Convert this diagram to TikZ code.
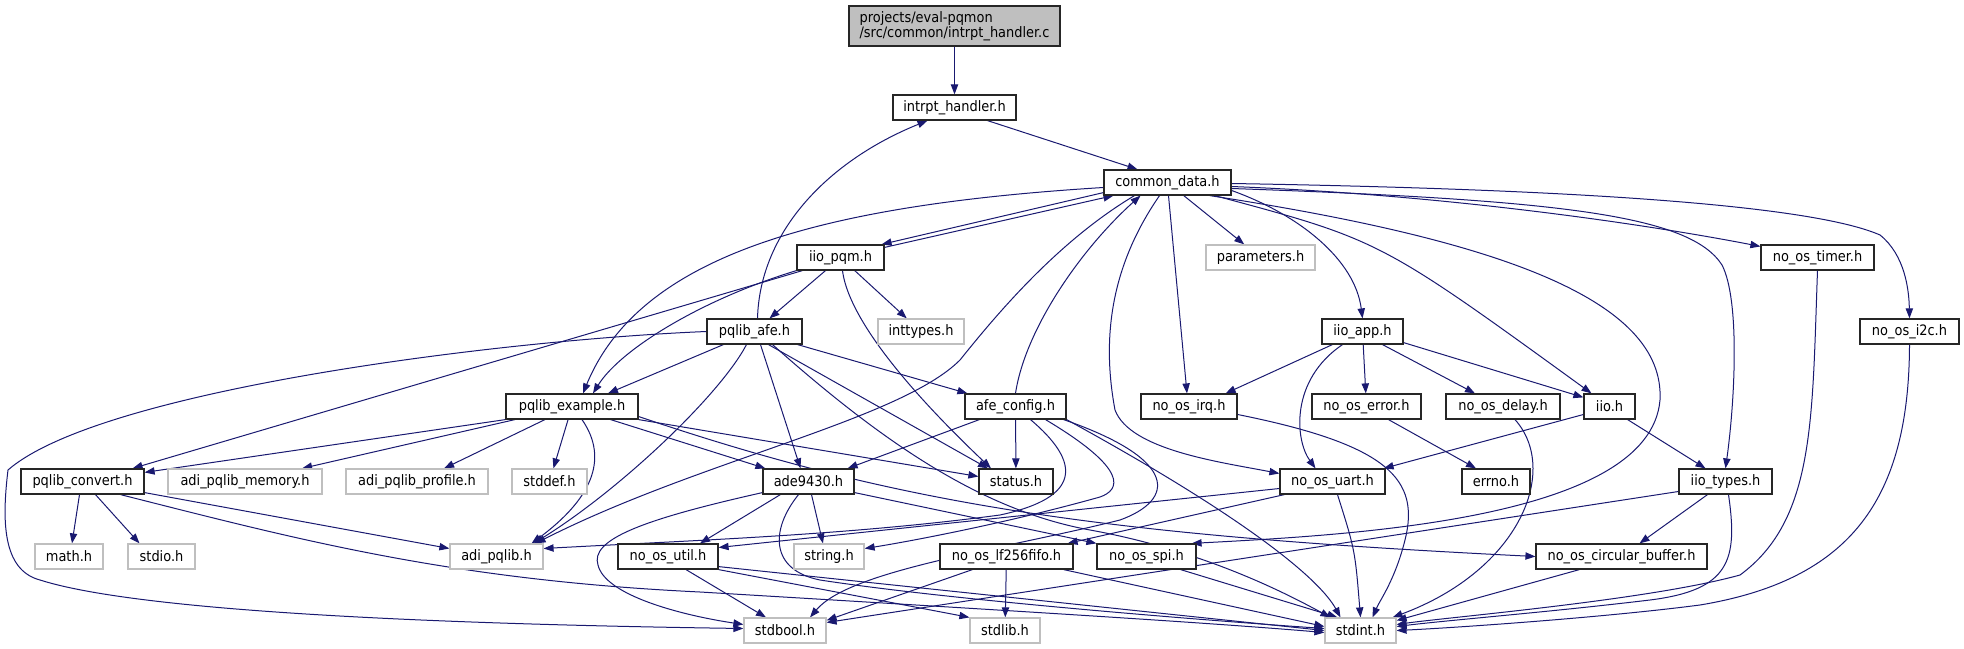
\documentclass[tikz,border=0pt]{standalone}
\usepackage{fontspec}
\setmainfont{DejaVu Sans Condensed}
\usetikzlibrary{arrows.meta,calc}
\definecolor{edgec}{HTML}{191970}
\definecolor{grayb}{HTML}{BFBFBF}
\pgfdeclarelayer{bg}
\pgfsetlayers{bg,main}
\begin{document}
\begin{tikzpicture}[x=0.75pt,y=-0.75pt,
  box/.style={draw=black!85, line width=0.9pt, fill=white, inner sep=0pt, minimum height=18.75pt, font=\fontsize{10.8}{11.5}\selectfont},
  sys/.style={box, draw=grayb},
  wd/.style={minimum width={#1*0.75pt}},
  e/.style={draw=edgec, line width=0.75pt, -{Triangle[length=7.5pt,width=5.5pt]}}]
\useasboundingbox (0,0) rectangle (1964,649);
% nodes
\node[box, fill=grayb, wd=211, minimum height=30pt, align=left] (root) at (954.5,26) {projects/eval-pqmon\\/src/common/intrpt\_handler.c};
\node[box,wd=123] (ih) at (954.5,107.5) {intrpt\_handler.h};
\node[box,wd=127] (cd) at (1167.5,182.5) {common\_data.h};
\node[box,wd=87] (pqm) at (840.5,257.5) {iio\_pqm.h};
\node[sys,wd=109] (par) at (1260.5,257.5) {parameters.h};
\node[box,wd=113] (tim) at (1817.5,257.5) {no\_os\_timer.h};
\node[box,wd=95] (afe) at (754.5,331.5) {pqlib\_afe.h};
\node[sys,wd=86] (inty) at (921,331.5) {inttypes.h};
\node[box,wd=81] (app) at (1362.5,331.5) {iio\_app.h};
\node[box,wd=99] (i2c) at (1909.5,331.5) {no\_os\_i2c.h};
\node[box,wd=132] (ex) at (572,406.5) {pqlib\_example.h};
\node[box,wd=101] (cfg) at (1015.5,406.5) {afe\_config.h};
\node[box,wd=96] (irq) at (1189,406.5) {no\_os\_irq.h};
\node[box,wd=109] (err) at (1366.5,406.5) {no\_os\_error.h};
\node[box,wd=114] (dly) at (1503,406.5) {no\_os\_delay.h};
\node[box,wd=51] (iio) at (1609.5,406.5) {iio.h};
\node[box,wd=123] (cnv) at (82.5,481.5) {pqlib\_convert.h};
\node[sys,wd=154] (mem) at (245,481.5) {adi\_pqlib\_memory.h};
\node[sys,wd=142] (prof) at (417,481.5) {adi\_pqlib\_profile.h};
\node[sys,wd=75] (sdef) at (549.5,481.5) {stddef.h};
\node[box,wd=91] (ade) at (808.5,481.5) {ade9430.h};
\node[box,wd=74] (st) at (1016,481.5) {status.h};
\node[box,wd=105] (uart) at (1332.5,481.5) {no\_os\_uart.h};
\node[box,wd=68] (errno) at (1496,481.5) {errno.h};
\node[box,wd=93] (typ) at (1725.5,481.5) {iio\_types.h};
\node[sys,wd=68] (math) at (69,556.5) {math.h};
\node[sys,wd=67] (stdio) at (161.5,556.5) {stdio.h};
\node[sys,wd=93] (adi) at (496.5,556.5) {adi\_pqlib.h};
\node[box,wd=100] (util) at (668,556.5) {no\_os\_util.h};
\node[sys,wd=70] (str) at (829,556.5) {string.h};
\node[box,wd=133] (fifo) at (1006.5,556.5) {no\_os\_lf256fifo.h};
\node[box,wd=99] (spi) at (1146.5,556.5) {no\_os\_spi.h};
\node[box,wd=171] (circ) at (1621.5,556.5) {no\_os\_circular\_buffer.h};
\node[sys,wd=82] (sbool) at (785,630.5) {stdbool.h};
\node[sys,wd=70] (slib) at (1005,630.5) {stdlib.h};
\node[sys,wd=71] (sint) at (1360.5,630.5) {stdint.h};
\begin{pgfonlayer}{bg}
% top
\draw[e] (root) -- (ih);
\draw[e] ($(ih.south)+(33,0)$) -- ($(cd.north)+(-30,0)$);
\draw[e] ($(cd.south west)+(0,-3)$) -- ($(pqm.north east)+(-3,0)$);
\draw[e] ($(pqm.north east)+(0,3)$) -- ($(cd.south west)+(10,0)$);
\draw[e] ($(cd.west)+(0,5)$) .. controls (820,205) and (640,255) .. ($(ex.north)+(11,0)$);
\draw[e] (cd) -- (par);
\draw[e] ($(cd.east)+(0,8)$) .. controls (1300,215) and (1355,260) .. (app.north);
\draw[e] ($(cd.east)+(0,4)$) .. controls (1450,195) and (1650,225) .. (tim);
\draw[e] ($(cd.east)+(0,1)$) .. controls (1500,188) and (1800,200) .. (1880,235) .. controls (1905,255) and (1909,290) .. (i2c.north);
\draw[e] ($(cd.south east)+(-17,0)$) .. controls (1380,240) .. ($(iio.north)+(-18,0)$);
\draw[e] ($(cd.east)+(0,6)$) .. controls (1560,200) and (1690,215) .. (1722,265) .. controls (1740,300) and (1735,400) .. (typ.north);
\draw[e] ($(cd.south)+(1,0)$) -- ($(irq.north)+(-2,0)$);
\draw[e] ($(cd.south)+(-8,0)$) .. controls (1115,260) and (1100,330) .. (1115,410) .. controls (1130,450) and (1220,462) .. ($(uart.west)+(0,-8)$);
\draw[e] ($(cd.south east)+(-22,0)$) .. controls (1500,240) and (1665,300) .. (1660,400) .. controls (1650,520) and (1350,535) .. ($(spi.north east)+(-5,0)$);
\draw[e] ($(cd.south)+(-33,0)$) .. controls (1060,240) and (1000,310) .. (960,360) .. controls (900,420) and (700,460) .. ($(adi.north east)+(-8,0)$);
\draw[e] (cfg.north) .. controls (1025,330) and (1080,250) .. ($(cd.south)+(-27,0)$);
% pqlib_afe / iio_pqm
\draw[e] ($(afe.north)+(3,0)$) .. controls (760,230) and (830,160) .. ($(ih.south)+(-27,0)$);
\draw[e] ($(pqm.south)+(-15,0)$) -- ($(afe.north)+(15,0)$);
\draw[e] (pqm) -- (inty);
\draw[e] (pqm.south west) .. controls (700,300) and (620,350) .. ($(ex.north)+(21,0)$);
\draw[e] ($(pqm.south west)+(6,0)$) -- ($(cnv.north east)+(-12,0)$);
\draw[e] ($(pqm.south)+(2,0)$) .. controls (850,330) and (940,420) .. ($(st.north)+(-25,0)$);
\draw[e] ($(afe.south west)+(17,0)$) -- ($(ex.north)+(36,0)$);
\draw[e] ($(afe.south east)+(-5,0)$) -- ($(cfg.north west)+(3,0)$);
\draw[e] ($(afe.south)+(6,0)$) -- ($(ade.north)+(-8,0)$);
\draw[e] ($(afe.south)+(14,0)$) -- ($(st.north)+(-28,0)$);
\draw[e] ($(afe.south)+(-8,0)$) .. controls (720,395) and (620,490) .. ($(adi.north east)+(-10,0)$);
\draw[e] (afe.west) .. controls (500,340) and (100,390) .. (8,470) .. controls (2,520) and (2,570) .. (40,580) .. controls (150,615) and (500,625) .. ($(sbool.west)+(0,-2)$);
\draw[e] ($(afe.south)+(18,0)$) .. controls (880,440) and (980,510) .. (1090,530) .. controls (1200,550) and (1280,590) .. ($(sint.north west)+(6,0)$);
% pqlib_example
\draw[e] (ex.south west) -- ($(cnv.north east)+(0,4)$);
\draw[e] (ex) -- (mem);
\draw[e] (ex) -- (prof);
\draw[e] (ex) -- (sdef);
\draw[e] ($(ex.south)+(10,0)$) .. controls (610,460) and (590,500) .. ($(adi.north east)+(-12,0)$);
\draw[e] ($(ex.south east)+(-28,0)$) -- ($(ade.north west)+(3,0)$);
\draw[e] (ex.south east) -- ($(st.west)+(0,-5)$);
\draw[e] ($(ex.east)+(0,10)$) .. controls (900,505) and (1100,535) .. (circ.west);
% afe_config
\draw[e] ($(cfg.south west)+(15,0)$) -- ($(ade.north east)+(-7,0)$);
\draw[e] (cfg) -- (st);
\draw[e] ($(cfg.south)+(15,0)$) .. controls (1090,470) and (1070,500) .. (1000,515) .. controls (850,535) and (700,540) .. ($(adi.east)+(0,-8)$);
\draw[e] ($(cfg.south)+(30,0)$) .. controls (1130,470) and (1120,490) .. (1100,497) .. controls (1000,525) and (900,543) .. ($(str.east)+(0,-8)$);
\draw[e] ($(cfg.south east)+(-3,0)$) .. controls (1180,460) and (1175,500) .. (1120,520) .. controls (1000,550) and (850,570) .. ($(sbool.north)+(25,0)$);
\draw[e] (cfg.south east) .. controls (1250,520) and (1320,580) .. ($(sint.north)+(-20,0)$);
% ade9430
\draw[e] ($(ade.south west)+(18,0)$) -- ($(util.north)+(32,0)$);
\draw[e] ($(ade.south)+(3,0)$) -- ($(str.north)+(-6,0)$);
\draw[e] ($(ade.south east)+(0,-2)$) -- (spi.north west);
\draw[e] ($(ade.south west)+(0,-2)$) .. controls (640,520) and (590,540) .. (598,565) .. controls (605,595) and (680,615) .. ($(sbool.west)+(0,-6)$);
\draw[e] ($(ade.south)+(-10,0)$) .. controls (770,530) and (770,570) .. (820,580) .. controls (950,600) and (1200,620) .. ($(sint.west)+(0,-2)$);
% no_os_util, fifo, spi, uart
\draw[e] ($(util.south)+(18,0)$) -- ($(sbool.north)+(-19,0)$);
\draw[e] (util.south east) -- (slib.north west);
\draw[e] ($(util.south east)+(0,-3)$) -- (sint.west);
\draw[e] ($(fifo.south west)+(33,0)$) -- ($(sbool.north east)+(0,3)$);
\draw[e] (fifo) -- (slib);
\draw[e] ($(fifo.south east)+(-10,0)$) -- ($(sint.west)+(0,-4)$);
\draw[e] ($(spi.south east)+(-16,0)$) -- ($(sint.north west)+(13,0)$);
\draw[e] ($(uart.south west)+(5,0)$) -- ($(fifo.north east)+(-6,0)$);
\draw[e] ($(uart.west)+(0,7)$) -- ($(util.east)+(0,-9)$);
\draw[e] ($(uart.south)+(5,0)$) .. controls (1355,550) .. (sint.north);
\draw[e] ($(irq.east)+(0,8)$) .. controls (1390,445) and (1420,480) .. (1405,540) .. controls (1395,580) and (1380,600) .. ($(sint.north)+(12,0)$);
% iio_app
\draw[e] ($(app.south west)+(11,0)$) -- ($(irq.north east)+(-12,0)$);
\draw[e] ($(app.south)+(-20,0)$) .. controls (1290,380) and (1295,440) .. ($(uart.north)+(-17,0)$);
\draw[e] (app) -- (err);
\draw[e] ($(app.south)+(20,0)$) -- ($(dly.north)+(-28,0)$);
\draw[e] ($(app.south east)+(0,-2)$) -- ($(iio.north west)+(0,4)$);
\draw[e] ($(err.south)+(22,0)$) -- ($(errno.north)+(-20,0)$);
\draw[e] ($(dly.south)+(12,0)$) .. controls (1560,470) and (1520,570) .. ($(sint.north east)+(-4,0)$);
\draw[e] ($(iio.west)+(0,8)$) -- ($(uart.north east)+(-2,0)$);
\draw[e] ($(iio.south east)+(-8,0)$) -- ($(typ.north)+(-20,0)$);
% iio_types, circular buffer, timer, i2c
\draw[e] ($(typ.south)+(-18,0)$) -- ($(circ.north)+(18,0)$);
\draw[e] ($(typ.south)+(3,0)$) .. controls (1738,560) and (1730,590) .. (1650,600) .. controls (1550,612) and (1450,620) .. ($(sint.east)+(0,-4)$);
\draw[e] ($(typ.west)+(0,10)$) -- ($(sbool.east)+(0,-8)$);
\draw[e] ($(circ.south west)+(44,0)$) -- ($(sint.east)+(0,-10)$);
\draw[e] (tim.south) .. controls (1812,420) and (1815,520) .. (1740,575) .. controls (1650,600) and (1450,617) .. ($(sint.east)+(0,-6)$);
\draw[e] (i2c.south) .. controls (1909,500) and (1850,580) .. (1700,605) .. controls (1600,618) and (1450,628) .. (sint.east);
% pqlib_convert
\draw[e] ($(cnv.south)+(-3,0)$) -- ($(math.north)+(3,0)$);
\draw[e] ($(cnv.south)+(13,0)$) -- ($(stdio.north)+(-22,0)$);
\draw[e] ($(cnv.south east)+(0,-2)$) -- ($(adi.west)+(0,-8)$);
\draw[e] ($(cnv.south)+(38,0)$) .. controls (300,540) and (450,580) .. (700,592) .. controls (1000,610) and (1200,622) .. ($(sint.west)+(0,2)$);
\end{pgfonlayer}
\end{tikzpicture}
\end{document}
